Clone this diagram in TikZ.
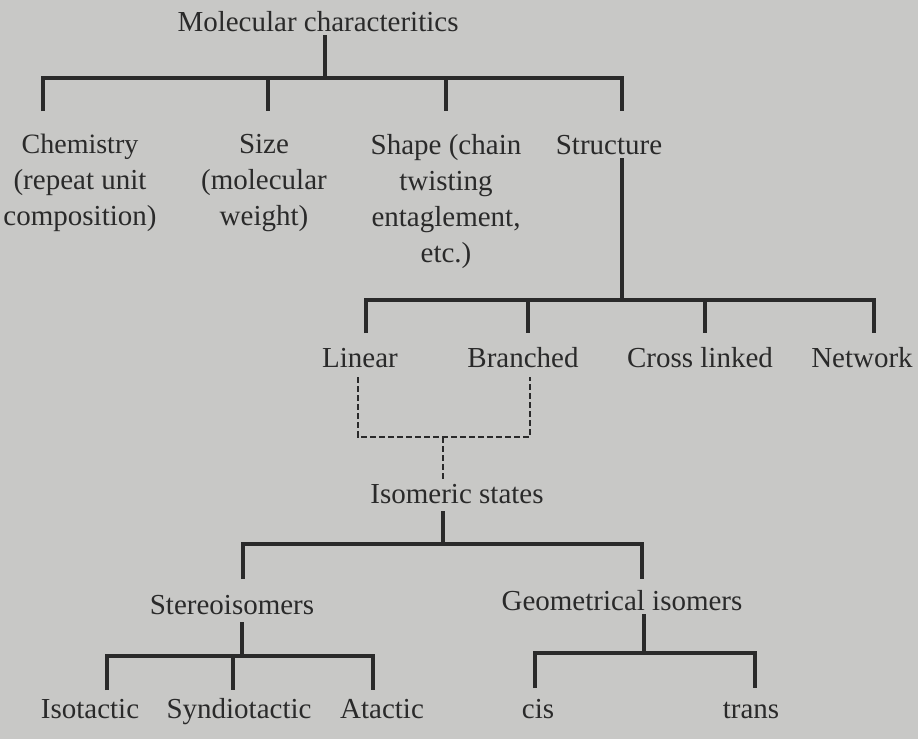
\documentclass[tikz,border=0pt]{standalone}
\usepackage{fontspec}
\setmainfont{Liberation Serif}
\usepackage{xcolor}
\usepackage{tikz}
\usetikzlibrary{positioning,calc}
\definecolor{paperGray}{HTML}{C8C8C6}
\definecolor{inkGray}{HTML}{2A2A2A}

\begin{document}
\begin{tikzpicture}[
    x=1pt, y=-1pt,
    every node/.style={font=\fontsize{29}{36}\selectfont, align=center, text=inkGray, inner sep=4pt},
    branch/.style={draw=inkGray, line width=3.2pt, line join=miter},
    dashlink/.style={draw=inkGray, line width=2.2pt, dash pattern=on 6pt off 3pt}
]
    \fill[paperGray] (0,0) rectangle (918,739);
    \useasboundingbox (0,0) rectangle (918,739);

    % top level
    \node[anchor=base] (mol) at (318,31) {Molecular characteritics};
    \coordinate (molJ) at (325,78);
    \coordinate (chemTip) at (43,111);
    \coordinate (sizeTip) at (268,111);
    \coordinate (shapeTip) at (446,111);
    \coordinate (structTip) at (622,111);
    \node[anchor=north] (chem) at (80,130) {\fontsize{28}{36}\selectfont Chemistry\\(repeat unit\\composition)};
    \node[anchor=north] (size) at (264,130) {Size\\(molecular\\weight)};
    \node[anchor=north] (shape) at (446,130) {Shape (chain\\twisting\\entaglement,\\etc.)};
    \node[anchor=base] (struct) at (609,154) {Structure};

    \draw[branch] (mol.south -| molJ) -- (molJ);
    \draw[branch] (chemTip) |- (molJ) -| (structTip);
    \draw[branch] (molJ) -| (sizeTip);
    \draw[branch] (molJ) -| (shapeTip);

    % structure
    \coordinate (structJ) at (622,300);
    \coordinate (linTip) at (366,333);
    \coordinate (brTip) at (528,333);
    \coordinate (crossTip) at (705,333);
    \coordinate (netTip) at (874,333);
    \node[anchor=base] (lin) at (360,367) {Linear};
    \node[anchor=base] (br) at (523,367) {Branched};
    \node[anchor=base] (cross) at (700,367) {Cross linked};
    \node[anchor=base] (net) at (862,367) {Network};

    \draw[branch] (struct.south -| structJ) -- (structJ);
    \draw[branch] (linTip) |- (structJ) -| (netTip);
    \draw[branch] (structJ) -| (brTip);
    \draw[branch] (structJ) -| (crossTip);

    % isomeric states
    \coordinate (dashJ) at (443,437);
    \node[anchor=base] (iso) at (457,503) {Isomeric states};
    \draw[dashlink] ([xshift=-2pt,yshift=-6pt]lin.south) |- (dashJ) -| ([xshift=7pt,yshift=-6pt]br.south);
    \draw[dashlink] (dashJ) -- (iso.north -| dashJ);

    \coordinate (isoJ) at (443,544);
    \coordinate (stereoTip) at (243,579);
    \coordinate (geoTip) at (642,579);
    \node[anchor=base] (stereo) at (232,614) {Stereoisomers};
    \node[anchor=base] (geo) at (622,610) {Geometrical isomers};

    \draw[branch] ([yshift=-4pt]iso.south -| isoJ) -- (isoJ);
    \draw[branch] (stereoTip) |- (isoJ) -| (geoTip);

    % stereoisomers
    \coordinate (stereoJ) at (242,656);
    \coordinate (isotTip) at (107,690);
    \coordinate (syndTip) at (233,690);
    \coordinate (ataTip) at (373,690);
    \node[anchor=base] (isot) at (90,718) {Isotactic};
    \node[anchor=base] (synd) at (239,718) {Syndiotactic};
    \node[anchor=base] (ata) at (382,718) {Atactic};

    \draw[branch] ([yshift=-4pt]stereo.south -| stereoJ) -- (stereoJ);
    \draw[branch] (isotTip) |- (stereoJ) -| (ataTip);
    \draw[branch] (stereoJ) -| (syndTip);

    % geometrical isomers
    \coordinate (geoJ) at (644,653);
    \coordinate (cisTip) at (535,688);
    \coordinate (transTip) at (755,688);
    \node[anchor=base] (cis) at (538,718) {cis};
    \node[anchor=base] (trans) at (751,718) {trans};

    \draw[branch] (geo.south -| geoJ) -- (geoJ);
    \draw[branch] (cisTip) |- (geoJ) -| (transTip);
\end{tikzpicture}
\end{document}
